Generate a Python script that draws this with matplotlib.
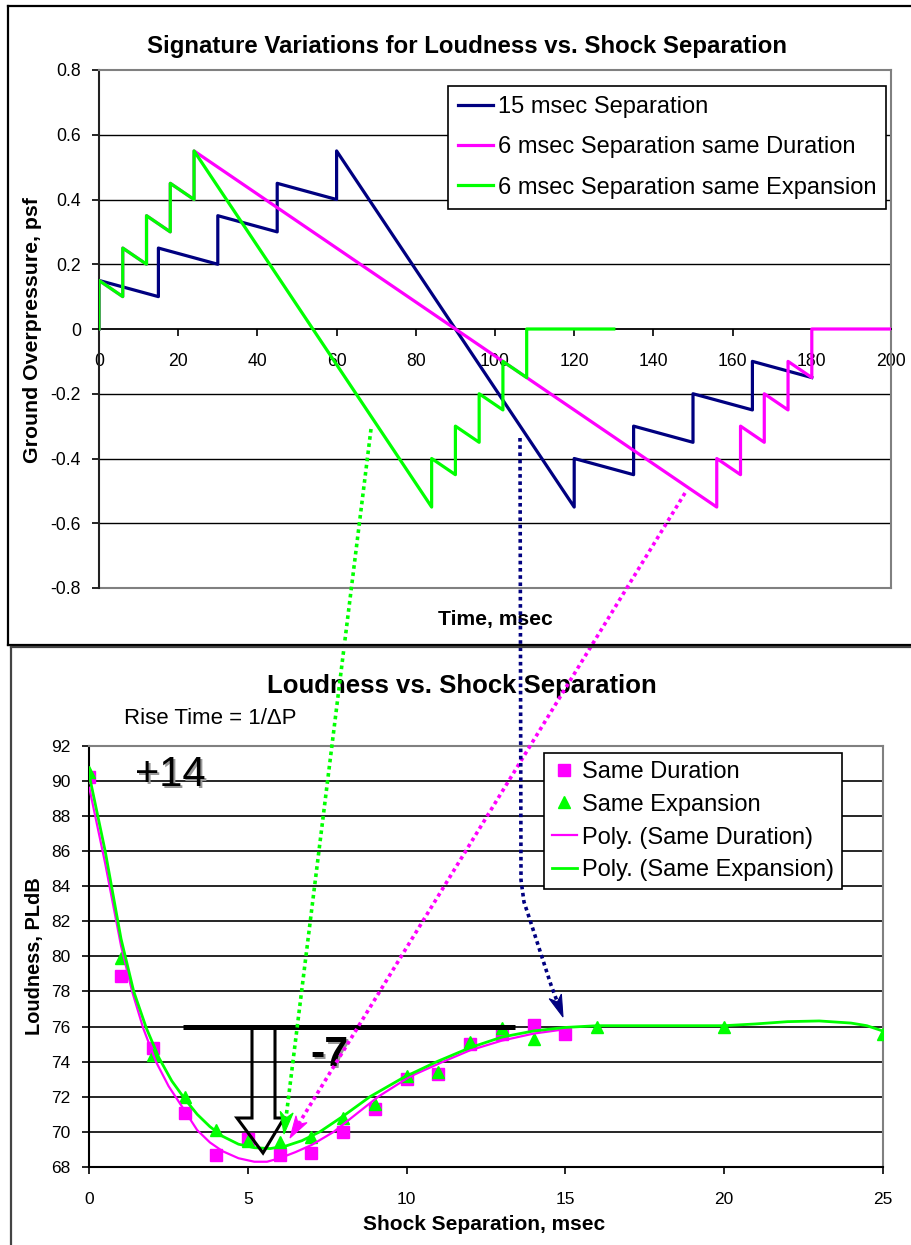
import numpy as np
import matplotlib
matplotlib.use('Agg')
import matplotlib.pyplot as plt
from matplotlib.lines import Line2D
from matplotlib.patches import Polygon

plt.rcParams['font.family'] = ['Liberation Sans', 'DejaVu Sans']

# ---------------- data: top panel (signatures) ----------------
t_15 = [0, 0, 15, 15, 30, 30, 45, 45, 60, 60, 120, 120, 135, 135, 150, 150, 165, 165, 180]
p_15 = [0, 0.15, 0.10, 0.25, 0.20, 0.35, 0.30, 0.45, 0.40, 0.55, -0.55, -0.40, -0.45,
        -0.30, -0.35, -0.20, -0.25, -0.10, -0.15]
t_6d = [0, 0, 6, 6, 12, 12, 18, 18, 24, 24, 156, 156, 162, 162, 168, 168, 174, 174, 180, 180, 200]
p_6d = [0, 0.15, 0.10, 0.25, 0.20, 0.35, 0.30, 0.45, 0.40, 0.55, -0.55, -0.40, -0.45,
        -0.30, -0.35, -0.20, -0.25, -0.10, -0.15, 0, 0]
t_6e = [0, 0, 6, 6, 12, 12, 18, 18, 24, 24, 84, 84, 90, 90, 96, 96, 102, 102, 108, 108, 130]
p_6e = [0, 0.15, 0.10, 0.25, 0.20, 0.35, 0.30, 0.45, 0.40, 0.55, -0.55, -0.40, -0.45,
        -0.30, -0.35, -0.20, -0.25, -0.10, -0.15, 0, 0]
top_labels = ["15 msec Separation", "6 msec Separation same Duration",
              "6 msec Separation same Expansion"]
top_xticks = list(range(0, 201, 20))
top_yticks = [-0.8, -0.6, -0.4, -0.2, 0, 0.2, 0.4, 0.6, 0.8]
top_yticklabels = ["-0.8", "-0.6", "-0.4", "-0.2", "0", "0.2", "0.4", "0.6", "0.8"]

# ---------------- data: bottom panel (loudness) ----------------
sep_dur = [0, 1, 2, 3, 4, 5, 6, 7, 8, 9, 10, 11, 12, 13, 14, 15]
loud_dur = [90.2, 78.9, 74.8, 71.1, 68.7, 69.6, 68.7, 68.8, 70.0, 71.3, 73.0, 73.3,
            75.0, 75.6, 76.1, 75.6]
sep_exp = [0, 1, 2, 3, 4, 5, 6, 7, 8, 9, 10, 11, 12, 13, 14, 16, 20, 25]
loud_exp = [90.5, 79.9, 74.4, 72.0, 70.1, 69.5, 69.4, 69.7, 70.8, 71.6, 73.2, 73.4,
            75.1, 75.9, 75.3, 76.0, 76.0, 75.6]
# polynomial trendlines
trend_dur_x = [0, 0.5, 1.0, 1.35, 1.7, 2.1, 2.5, 2.9, 3.4, 3.8, 4.2, 4.7, 5.2, 5.6, 6.0,
               6.5, 7.0, 7.7, 8.4, 9.1, 10.1, 11.15, 12.0, 13.0, 14.0, 15.0]
trend_dur_y = [89.6, 85.3, 80.6, 78.0, 75.9, 74.0, 72.6, 71.5, 70.1, 69.4, 68.9, 68.5,
               68.3, 68.3, 68.5, 68.85, 69.25, 70.0, 71.0, 72.0, 73.15, 74.0, 74.65,
               75.2, 75.6, 75.85]
trend_exp_x = [0, 0.5, 1.0, 1.4, 1.8, 2.2, 2.6, 3.0, 3.4, 3.8, 4.2, 4.7, 5.2, 5.7, 6.2,
               6.7, 7.26, 8.0, 8.84, 9.9, 10.95, 12, 13, 14, 15, 16, 18, 20, 21, 22, 23,
               24, 24.5, 25]
trend_exp_y = [90.3, 86.0, 81.0, 78.0, 75.9, 74.2, 72.9, 71.9, 71.0, 70.3, 69.75, 69.3,
               69.1, 69.05, 69.2, 69.5, 70.0, 70.9, 72.0, 73.1, 74.0, 74.8, 75.4, 75.75,
               75.95, 76.05, 76.05, 76.05, 76.15, 76.28, 76.32, 76.2, 76.05, 75.75]
bot_labels = ["Same Duration", "Same Expansion", "Poly. (Same Duration)",
              "Poly. (Same Expansion)"]
bot_xticks = [0, 5, 10, 15, 20, 25]
bot_yticks = list(range(68, 93, 2))

NAVY = '#000080'
MAG = '#FF00FF'
GRN = '#00FF00'

W, H = 912, 1245
fig = plt.figure(figsize=(W / 100, H / 100), dpi=100)


def fx(x):
    return x / W


def fy(y):
    return 1 - y / H


def fig_line(xs, ys, **kw):
    fig.add_artist(Line2D([fx(x) for x in xs], [fy(y) for y in ys], **kw))


# ---------------- top axes ----------------
ax1 = fig.add_axes([fx(99), fy(588), 792 / W, 518 / H])
ax1.plot(t_15, p_15, color=NAVY, lw=2.3, label=top_labels[0], zorder=3)
ax1.plot(t_6d, p_6d, color=MAG, lw=2.3, label=top_labels[1], zorder=4)
ax1.plot(t_6e, p_6e, color=GRN, lw=2.3, label=top_labels[2], zorder=5)
ax1.set_xlim(0, 200)
ax1.set_ylim(-0.8, 0.8)
ax1.set_xticks(top_xticks)
ax1.set_yticks(top_yticks)
ax1.set_yticklabels(top_yticklabels)
for v in top_yticks[1:-1]:
    if v != 0:
        ax1.axhline(v, color='black', lw=1.0, zorder=1)
ax1.axhline(-0.8, color='#808080', lw=1.5, zorder=1, clip_on=False)
ax1.spines['bottom'].set_position(('data', 0))
ax1.spines['bottom'].set_linewidth(1.3)
ax1.spines['left'].set_linewidth(1.5)
ax1.spines['left'].set_color('#222222')
for s in ['top', 'right']:
    ax1.spines[s].set_color('#808080')
    ax1.spines[s].set_linewidth(1.5)
ax1.tick_params(axis='x', direction='out', length=5, width=1.2, pad=12, labelsize=12.7)
ax1.tick_params(axis='y', direction='out', length=5, width=1.2, pad=8, labelsize=12.7)
ax1.set_facecolor('none')
leg1 = ax1.legend(loc='upper left', bbox_to_anchor=(fx(448), fy(86)),
                  bbox_transform=fig.transFigure, fontsize=17.0, frameon=True,
                  fancybox=False, edgecolor='black', framealpha=1,
                  borderpad=0.42, handlelength=1.5, handletextpad=0.2,
                  labelspacing=0.78, borderaxespad=0)
leg1.get_frame().set_linewidth(1.2)
leg1.set_zorder(10)

fig.text(fx(467), fy(47), "Signature Variations for Loudness vs. Shock Separation",
         ha='center', va='center', fontsize=17.3, fontweight='bold')
fig.text(fx(33), fy(330), "Ground Overpressure, psf", rotation=90, ha='center',
         va='center', fontsize=15.3, fontweight='bold')
fig.text(fx(495), fy(620), "Time, msec", ha='center', va='center', fontsize=15.2,
         fontweight='bold')

# ---------------- bottom axes ----------------
ax2 = fig.add_axes([fx(89.3), fy(1167), 793.4 / W, 421.3 / H])
ax2.set_xlim(0, 25)
ax2.set_ylim(68, 92)
ax2.set_xticks(bot_xticks)
ax2.set_yticks(bot_yticks)
for v in bot_yticks[1:-1]:
    ax2.axhline(v, color='black', lw=1.2, zorder=1)
ax2.plot(sep_dur, loud_dur, 's', color=MAG, ms=8.5, mec=MAG, label=bot_labels[0], zorder=3)
ax2.plot(sep_exp, loud_exp, '^', color=GRN, ms=8.5, mec=GRN, label=bot_labels[1], zorder=4)
ax2.plot(trend_dur_x, trend_dur_y, color=MAG, lw=1.6, label=bot_labels[2], zorder=5)
ax2.plot(trend_exp_x, trend_exp_y, color=GRN, lw=2.0, label=bot_labels[3], zorder=6)
ax2.spines['left'].set_linewidth(1.5)
ax2.spines['bottom'].set_linewidth(1.5)
for s in ['top', 'right']:
    ax2.spines[s].set_color('#808080')
    ax2.spines[s].set_linewidth(1.5)
ax2.tick_params(axis='x', direction='out', length=5, width=1.2, pad=13, labelsize=12.5)
ax2.tick_params(axis='y', direction='out', length=5, width=1.2, pad=8.5, labelsize=12.5)
ax2.set_facecolor('none')
leg2 = ax2.legend(loc='upper left', bbox_to_anchor=(fx(544), fy(753)),
                  bbox_transform=fig.transFigure, fontsize=17, frameon=True,
                  fancybox=False, edgecolor='black', framealpha=1,
                  borderpad=0.33, handlelength=1.05, handletextpad=0.25,
                  labelspacing=0.46, borderaxespad=0)
leg2.get_frame().set_linewidth(1.2)
leg2.set_zorder(10)

fig.text(fx(462), fy(686), "Loudness vs. Shock Separation", ha='center', va='center',
         fontsize=18.5, fontweight='bold')
fig.text(fx(124), fy(718), "Rise Time = 1/\u0394P", ha='left', va='center', fontsize=16)
fig.text(fx(35), fy(956), "Loudness, PLdB", rotation=90, ha='center', va='center',
         fontsize=14.4, fontweight='bold')
fig.text(fx(484), fy(1225), "Shock Separation, msec", ha='center', va='center',
         fontsize=15, fontweight='bold')

# +14 and -7 annotations with soft shadow
for dx, col in [(2, '#999999'), (0, 'black')]:
    fig.text(fx(170 + dx), fy(775 + dx), "+14", ha='center', va='center', fontsize=30,
             color=col, zorder=20)
    fig.text(fx(329 + dx), fy(1055 + dx), "-7", ha='center', va='center', fontsize=31,
             fontweight='bold', color=col, zorder=20)

# thick reference line at 76 PLdB and hollow arrow
fig_line([183, 515], [1027, 1027], color='black', lw=3.6, zorder=15, solid_capstyle='butt')
arrow_pts = [(252, 1027), (252, 1118), (237, 1118), (263, 1153), (284, 1118),
             (275, 1118), (275, 1027)]
fig.add_artist(Polygon([(fx(x), fy(y)) for x, y in arrow_pts], closed=False,
                       fill=False, edgecolor='black', lw=2.2, zorder=16,
                       joinstyle='miter'))

# frames of the two pasted charts
fig_line([8, 8], [6, 645], color='black', lw=1.6, zorder=30)
fig_line([8, 912], [6, 6], color='black', lw=1.6, zorder=30)
fig_line([8, 912], [645, 645], color='black', lw=1.6, zorder=30)
fig_line([11, 11], [647, 1245], color='#444444', lw=1.6, zorder=30)
fig_line([11, 912], [647, 647], color='#444444', lw=1.6, zorder=30)


# dotted connector arrows
def dotted_arrow(pts, color):
    pts = np.array(pts, dtype=float)
    tip = pts[-1]
    d = tip - pts[-2]
    d = d / np.hypot(*d)
    n = np.array([-d[1], d[0]])
    L, w, notch = 22, 6.5, 6
    base = tip - (L - notch) * d
    line = np.vstack([pts[:-1], base])
    fig_line(line[:, 0], line[:, 1], color=color, lw=2.6, ls=(0, (1, 1)),
             dash_capstyle='butt', zorder=25)
    head = [tip, tip - L * d + w * n, base, tip - L * d - w * n]
    fig.add_artist(Polygon([(fx(x), fy(y)) for x, y in head], closed=True,
                           facecolor=color, edgecolor=color, lw=0.8, zorder=26))


dotted_arrow([(371, 429), (284, 1134)], GRN)
dotted_arrow([(685, 493), (290, 1138)], MAG)
dotted_arrow([(520, 438), (521, 880), (524, 902), (530, 920), (540, 951), (551, 985),
              (563, 1017)], NAVY)

fig.savefig('out.png', dpi=100)
